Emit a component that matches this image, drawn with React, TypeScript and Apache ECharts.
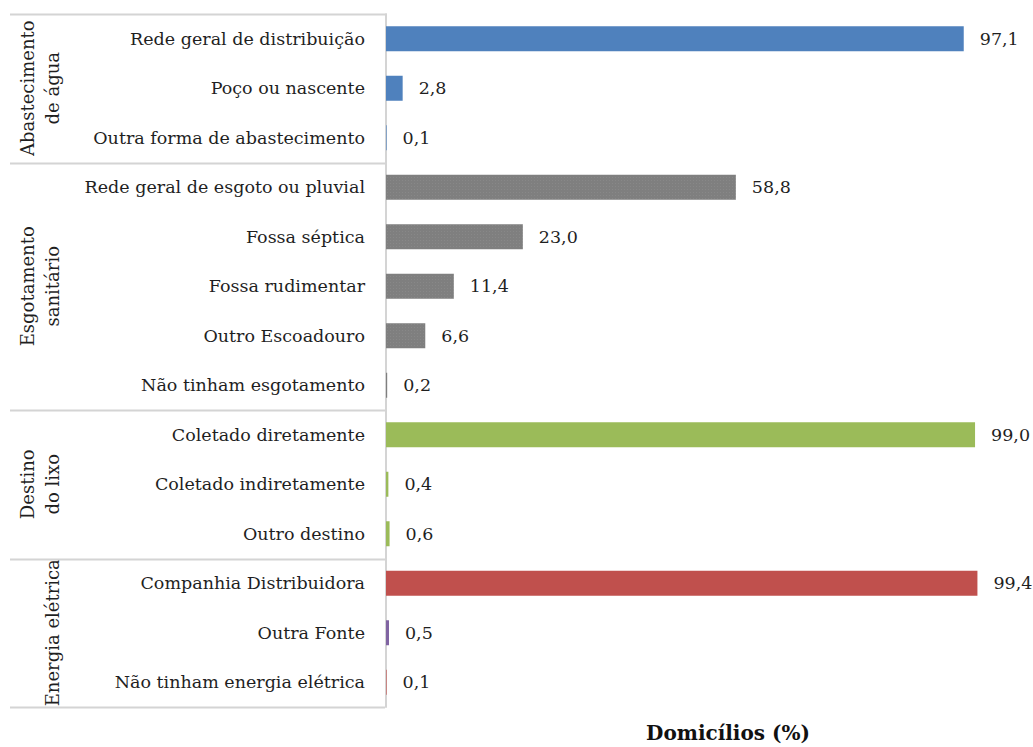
import React, { useEffect, useRef } from "react";
import * as echarts from "echarts";

// Categories listed top to bottom
const categories = [
  "Rede geral de distribuição",
  "Poço ou nascente",
  "Outra forma de abastecimento",
  "Rede geral de esgoto ou pluvial",
  "Fossa séptica",
  "Fossa rudimentar",
  "Outro Escoadouro",
  "Não tinham esgotamento",
  "Coletado diretamente",
  "Coletado indiretamente",
  "Outro destino",
  "Companhia Distribuidora",
  "Outra Fonte",
  "Não tinham energia elétrica",
];

// Share of households (%)
const values = [97.1, 2.8, 0.1, 58.8, 23.0, 11.4, 6.6, 0.2, 99.0, 0.4, 0.6, 99.4, 0.5, 0.1];

// Bar colour for each category
const barColors = [
  "#4f81bd", "#4f81bd", "#4f81bd",
  "#7f7f7f", "#7f7f7f", "#7f7f7f", "#7f7f7f", "#7f7f7f",
  "#9bbb59", "#9bbb59", "#9bbb59",
  "#c0504d", "#8064a2", "#c0504d",
];

// Group headings (lines) and how many categories each spans
const groupLabels = [
  ["Abastecimento", "de água"],
  ["Esgotamento", "sanitário"],
  ["Destino", "do lixo"],
  ["Energia elétrica"],
];
const groupSizes = [3, 5, 3, 3];

const axisTitle = "Domicílios (%)";

const FONT = "'DejaVu Serif', serif";
const GRID_LEFT = 386;
const GRID_TOP = 14;
const GRID_W = 595;
const GRID_H = 693;
const LINE_COLOR = "#d4d4d4";
const TEXT_COLOR = "#1f1f1f";

// fine grain used on the grey (sewage) bars
const grainDecal = {
  symbol: "rect",
  symbolSize: 1,
  dashArrayX: [1, 2],
  dashArrayY: [1, 2],
  rotation: 0,
  color: "rgba(255,255,255,0.07)",
};

export default function App() {
  const ref = useRef<HTMLDivElement>(null);

  useEffect(() => {
    if (!ref.current) return;
    const chart = echarts.init(ref.current, undefined, { renderer: "svg" });

    const rowH = GRID_H / categories.length;
    const graphics: any[] = [];

    // group separators and rotated group headings
    let start = 0;
    const bounds = [0];
    groupSizes.forEach((n, gi) => {
      const y0 = GRID_TOP + start * rowH;
      const y1 = GRID_TOP + (start + n) * rowH;
      const cy = (y0 + y1) / 2;
      const lines = groupLabels[gi];
      const xs = lines.length === 2 ? [27, 52] : [52];
      lines.forEach((t, li) => {
        graphics.push({
          type: "text",
          x: xs[li],
          y: cy,
          rotation: Math.PI / 2,
          style: {
            text: t,
            font: `18px ${FONT}`,
            fill: TEXT_COLOR,
            align: "center",
            verticalAlign: "middle",
          },
        });
      });
      start += n;
      bounds.push(start);
    });
    bounds.forEach((b) => {
      const y = Math.round(GRID_TOP + b * rowH) + 0.5;
      graphics.push({
        type: "line",
        shape: { x1: 10, y1: y, x2: GRID_LEFT - 1, y2: y },
        style: { stroke: LINE_COLOR, lineWidth: 2 },
      });
    });
    graphics.push({
      type: "text",
      x: 728,
      y: 733,
      style: {
        text: axisTitle,
        font: `bold 20px ${FONT}`,
        fill: "#111",
        align: "center",
        verticalAlign: "middle",
      },
    });

    chart.setOption({
      animation: false,
      backgroundColor: "#ffffff",
      grid: { left: GRID_LEFT, top: GRID_TOP, width: GRID_W, height: GRID_H },
      xAxis: {
        type: "value",
        min: 0,
        max: 100,
        show: false,
      },
      yAxis: {
        type: "category",
        inverse: true,
        data: categories,
        axisLine: { show: true, lineStyle: { color: LINE_COLOR, width: 2 } },
        axisTick: { show: false },
        axisLabel: {
          margin: 21,
          fontFamily: FONT,
          fontSize: 17.5,
          color: TEXT_COLOR,
        },
      },
      series: [
        {
          type: "bar",
          barWidth: 25,
          data: values.map((v, i) => ({
            value: v,
            itemStyle: {
              color: barColors[i],
              decal: barColors[i] === "#7f7f7f" ? grainDecal : undefined,
            },
          })),
          label: {
            show: true,
            position: "right",
            distance: 16,
            fontFamily: FONT,
            fontSize: 17.5,
            color: TEXT_COLOR,
            formatter: (p: any) => Number(p.value).toFixed(1).replace(".", ","),
          },
        },
      ],
      graphic: graphics,
    });

    return () => chart.dispose();
  }, []);

  return (
    <div
      ref={ref}
      style={{ position: "fixed", left: 0, top: 0, width: 1033, height: 747 }}
    />
  );
}
